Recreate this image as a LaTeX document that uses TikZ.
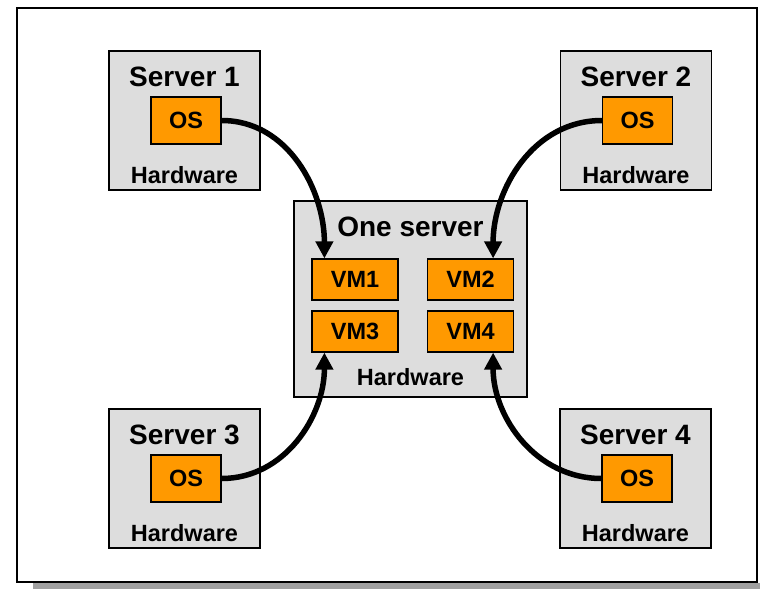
\documentclass[tikz,border=0pt]{standalone}
\usepackage{fontspec}
\setmainfont{Liberation Sans}
\usetikzlibrary{arrows.meta, positioning}
\definecolor{boxgray}{HTML}{DDDDDD}
\definecolor{osorange}{HTML}{FF9900}
\definecolor{shadowgray}{HTML}{A0A0A0}

\begin{document}
\begin{tikzpicture}[
    x=1pt, y=-1pt,
    server/.style={draw, line width=1.4pt, fill=boxgray, minimum width=151pt, minimum height=139pt, inner sep=0pt},
    host/.style={server, minimum width=233pt, minimum height=196pt},
    os/.style={draw, line width=1.2pt, fill=osorange, minimum width=70pt, minimum height=47pt, inner sep=0pt, font=\fontsize{23.5}{26}\selectfont\bfseries},
    vm/.style={os, minimum width=86pt, minimum height=41pt},
    title/.style={anchor=base, inner sep=0pt, font=\fontsize{28}{30}\selectfont\bfseries},
    hw/.style={anchor=base, inner sep=0pt, font=\fontsize{23.5}{26}\selectfont\bfseries},
    move/.style={-{Triangle[length=17pt, width=17pt]}, line width=5.5pt}
]
    \useasboundingbox (0,0) rectangle (760,589);
    % frame and its shadow
    \fill[shadowgray] (33,583) rectangle (760,589);
    \draw[line width=2pt, fill=white] (17,8) rectangle (757,582);

    % the four servers
    \node[server] (s1) at (184.5,120.5) {};
    \node[server] (s2) at (636,120.5) {};
    \node[server] (s3) at (184.5,478.5) {};
    \node[server] (s4) at (635.5,478.5) {};
    \foreach \s/\n in {s1/1, s2/2, s3/3, s4/4} {
        \node[title] (\s title) at ([yshift=-36pt]\s.north) {Server \n};
        \node[os] (\s os) at ([xshift=1.5pt]\s.center) {OS};
        \node[hw] (\s hw) at ([yshift=7pt]\s.south) {Hardware};
    }

    % the one server with its VMs
    \node[host] (one) at (410.5,299) {};
    \node[title] (onetitle) at ([yshift=-36pt]one.north) {One server};
    \node[hw] (onehw) at ([yshift=12pt]one.south) {Hardware};
    \node[vm] (vm1) at (355,279.5) {VM1};
    \node[vm] (vm2) at (470.5,279.5) {VM2};
    \node[vm] (vm3) at (355,331.5) {VM3};
    \node[vm] (vm4) at (470.5,331.5) {VM4};

    \draw[move] (s1os.east) to[out=0, in=90] ([xshift=13pt]vm1.north west);
    \draw[move] (s2os.west) to[out=180, in=90] ([xshift=-21pt]vm2.north east);
    \draw[move] (s3os.east) to[out=0, in=-90] ([xshift=13pt]vm3.south west);
    \draw[move] (s4os.west) to[out=180, in=-90] ([xshift=-21pt]vm4.south east);
\end{tikzpicture}
\end{document}
